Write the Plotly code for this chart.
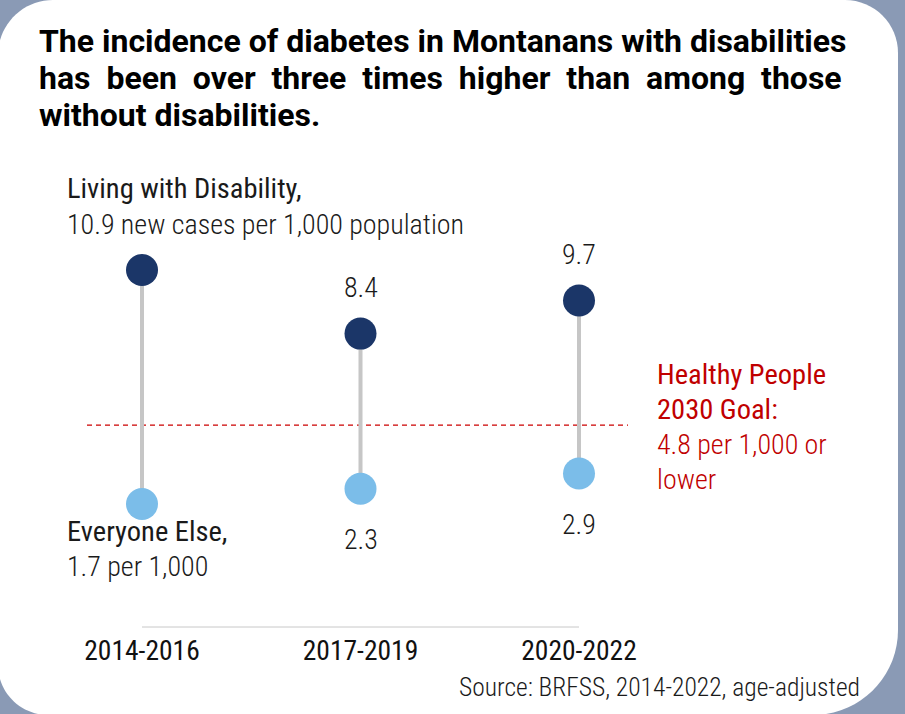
import plotly.graph_objects as go

# ---------------- data ----------------
periods = ["2014-2016", "2017-2019", "2020-2022"]
disability = [10.9, 8.4, 9.7]
everyone_else = [1.7, 2.3, 2.9]
goal_value = 4.8

title_lines = [
    "The incidence of diabetes in Montanans with disabilities",
    "has\u00a0 been\u00a0 over\u00a0 three\u00a0 times\u00a0 higher\u00a0 than\u00a0 among\u00a0 those",
    "without disabilities.",
]
source_text = "Source: BRFSS, 2014-2022, age-adjusted"

# ---------------- layout geometry ----------------
W, H = 905, 714
def px(x):
    return x / W
def py(y):
    return 1 - y / H

# axis placement (pixels)
CAT0_PX, CAT_STEP_PX = 142, 218.5      # first category centre, spacing
X_PAD = 0.06                           # category units of padding each side
Y_REF_VAL, Y_REF_PX, PX_PER_UNIT = 10.9, 270, 25.43
PLOT_TOP_PX, PLOT_BOTTOM_PX = 235, 620
AXIS_LINE_PX = 627

x_dom = [px(CAT0_PX - X_PAD * CAT_STEP_PX), px(CAT0_PX + (2 + X_PAD) * CAT_STEP_PX)]
y_rng = [Y_REF_VAL - (PLOT_BOTTOM_PX - Y_REF_PX) / PX_PER_UNIT,
         Y_REF_VAL + (Y_REF_PX - PLOT_TOP_PX) / PX_PER_UNIT]

NAVY = "#1b3668"
LIGHT = "#7bbde9"
STEM = "#c6c6c6"
RED = "#c00000"
TXT = "#1a1a1a"
BG = "#8a9ab5"
COND = "Roboto Condensed, Liberation Sans Narrow, Roboto, sans-serif"

# rounded card path (pixel coords -> paper)
def card_path(l, t, r, b, rtl, rtr, rbr, rbl):
    k = 0.5523
    def P(x, y):
        return f"{px(x):.5f},{py(y):.5f}"
    s = f"M {P(l + rtl, t)} L {P(r - rtr, t)} "
    s += f"C {P(r - rtr + k * rtr, t)} {P(r, t + rtr - k * rtr)} {P(r, t + rtr)} "
    s += f"L {P(r, b - rbr)} "
    s += f"C {P(r, b - rbr + k * rbr)} {P(r - rbr + k * rbr, b)} {P(r - rbr, b)} "
    s += f"L {P(l + rbl, b)} "
    s += f"C {P(l + rbl - k * rbl, b)} {P(l, b - rbl + k * rbl)} {P(l, b - rbl)} "
    s += f"L {P(l, t + rtl)} "
    s += f"C {P(l, t + rtl - k * rtl)} {P(l + rtl - k * rtl, t)} {P(l + rtl, t)} Z"
    return s

fig = go.Figure()

# stems
sx, sy = [], []
for p, lo, hi in zip(periods, everyone_else, disability):
    sx += [p, p, None]
    sy += [lo, hi, None]
fig.add_trace(go.Scatter(x=sx, y=sy, mode="lines", line=dict(color=STEM, width=4),
                         hoverinfo="skip", showlegend=False, cliponaxis=False))
fig.add_trace(go.Scatter(x=periods, y=everyone_else, mode="markers", name="Everyone Else",
                         marker=dict(size=32, color=LIGHT, line=dict(width=0)),
                         showlegend=False, cliponaxis=False))
fig.add_trace(go.Scatter(x=periods, y=disability, mode="markers", name="Living with Disability",
                         marker=dict(size=32, color=NAVY, line=dict(width=0)),
                         showlegend=False, cliponaxis=False))

annotations = []
# title lines
for i, line in enumerate(title_lines):
    annotations.append(dict(x=px(37), y=py(41 + 37 * i), xref="paper", yref="paper",
                            xanchor="left", yanchor="middle", showarrow=False,
                            text=f"<b>{line}</b>",
                            font=dict(family="Roboto, sans-serif", size=32, color="#000000")))

# value labels (except first period, which carries the series labels)
for p, v in zip(periods[1:], disability[1:]):
    annotations.append(dict(x=p, y=v, xref="x", yref="y", text=f"{v}", showarrow=False,
                            yanchor="middle", yshift=46,
                            font=dict(family=COND, size=28, color=TXT, weight=300)))
for p, v in zip(periods[1:], everyone_else[1:]):
    annotations.append(dict(x=p, y=v, xref="x", yref="y", text=f"{v}", showarrow=False,
                            yanchor="middle", yshift=-51,
                            font=dict(family=COND, size=28, color=TXT, weight=300)))

def label(x_px, yval, shift, text, color, weight, size=28):
    return dict(x=px(x_px), y=yval, xref="paper", yref="y", xanchor="left",
                yanchor="middle", yshift=shift, align="left", showarrow=False,
                text=text, font=dict(family=COND, size=size, color=color, weight=weight))

annotations += [
    label(65, disability[0], 82, "Living with Disability,", TXT, 400, 28.5),
    label(65, disability[0], 46, f"{disability[0]} new cases per 1,000 population", TXT, 300),
    label(65, everyone_else[0], -28, "Everyone Else,", TXT, 400, 28.5),
    label(65, everyone_else[0], -63, f"{everyone_else[0]} per 1,000", TXT, 300),
    label(655, goal_value, 51, "Healthy People", RED, 400, 28.5),
    label(655, goal_value, 16, "2030 Goal:", RED, 400, 28.5),
    label(655, goal_value, -19, f"{goal_value} per 1,000 or", RED, 300),
    label(655, goal_value, -54, "lower", RED, 300),
]
annotations.append(dict(x=px(862), y=py(687), xref="paper", yref="paper", xanchor="right",
                        yanchor="middle", showarrow=False, text=source_text,
                        font=dict(family=COND, size=25.5, color=TXT, weight=300)))

shapes = [
    dict(type="path", xref="paper", yref="paper", layer="below",
         path=card_path(-2, 0, 898, 715, 55, 53, 85, 50),
         fillcolor="white", line=dict(width=0)),
    dict(type="line", xref="paper", yref="y", x0=px(87), x1=px(628), y0=goal_value, y1=goal_value,
         line=dict(color="#cc0000", width=1.2, dash="5px,4px"), layer="below"),
    # baseline under the categories, from first to last period
    dict(type="line", xref="x", yref="paper", x0=periods[0], x1=periods[-1],
         y0=py(AXIS_LINE_PX), y1=py(AXIS_LINE_PX),
         line=dict(color="#c8c8c8", width=1), layer="below"),
]

fig.update_layout(
    width=W, height=H,
    margin=dict(l=0, r=0, t=0, b=0, autoexpand=False),
    paper_bgcolor=BG, plot_bgcolor="rgba(0,0,0,0)",
    xaxis=dict(type="category", domain=x_dom, range=[-X_PAD, 2 + X_PAD],
               showgrid=False, zeroline=False, showline=False,
               ticks="", ticklabelstandoff=11, automargin=False,
               tickfont=dict(family=COND, size=27.5, color="#111111", weight=400)),
    yaxis=dict(domain=[py(PLOT_BOTTOM_PX), py(PLOT_TOP_PX)], range=y_rng, visible=False,
               showgrid=False, zeroline=False, automargin=False),
    annotations=annotations,
    shapes=shapes,
    showlegend=False,
)

fig.write_html("out.html")
